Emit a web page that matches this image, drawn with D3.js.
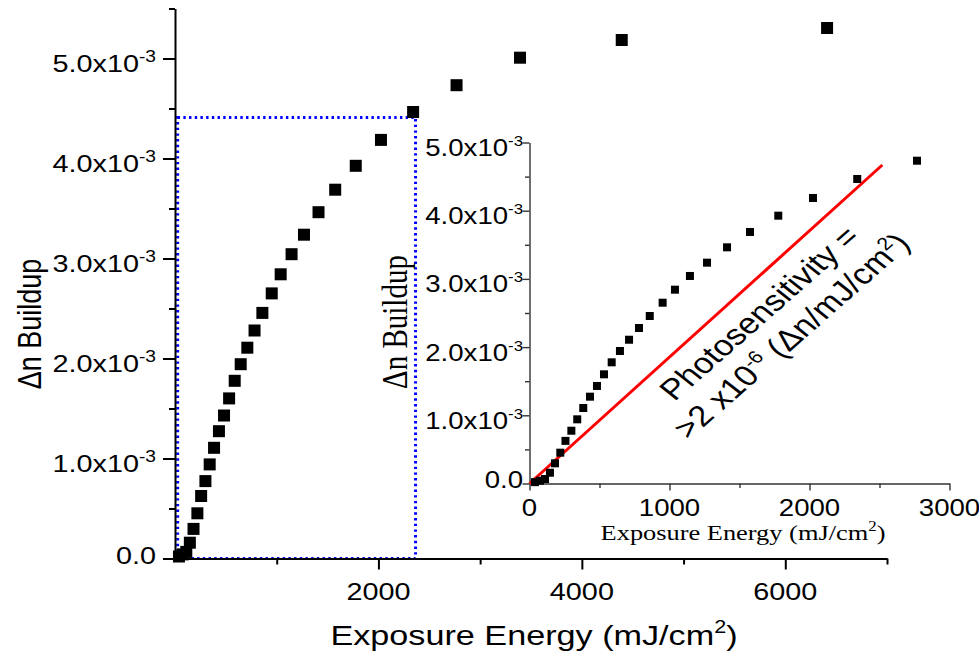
<!DOCTYPE html>
<html>
<head>
<meta charset="utf-8">
<script src="https://cdn.jsdelivr.net/npm/d3@7"></script>
<style>
  body { margin: 0; background: #fff; }
  svg { display: block; }
</style>
</head>
<body>
<svg id="chart" width="979" height="657"></svg>
<script>
// Exposure energy (mJ/cm2) and index change
const energy = [39, 75, 111, 146, 182, 220, 257, 299, 341, 384, 432, 482, 532, 587, 646, 711,
  782, 859, 951, 1039, 1146, 1268, 1411, 1575, 1777, 2025, 2341, 2768, 3392, 4392, 6411];
const deltaN = [0.02e-3, 0.041e-3, 0.066e-3, 0.158e-3, 0.296e-3, 0.452e-3, 0.625e-3, 0.774e-3,
  0.941e-3, 1.107e-3, 1.273e-3, 1.430e-3, 1.601e-3, 1.777e-3, 1.943e-3, 2.108e-3, 2.280e-3,
  2.456e-3, 2.651e-3, 2.842e-3, 3.043e-3, 3.238e-3, 3.463e-3, 3.688e-3, 3.927e-3, 4.186e-3,
  4.465e-3, 4.733e-3, 5.008e-3, 5.185e-3, 5.305e-3];

// tick values and labels
const mainYTicks = [0, 1e-3, 2e-3, 3e-3, 4e-3, 5e-3];
const mainYMinor = [0.5e-3, 1.5e-3, 2.5e-3, 3.5e-3, 4.5e-3, 5.5e-3];
const yTickBase = ["0.0", "1.0x10", "2.0x10", "3.0x10", "4.0x10", "5.0x10"];
const yTickSup = ["", "-3", "-3", "-3", "-3", "-3"];
const mainXTicks = [2000, 4000, 6000];
const mainXMinor = [1000, 3000, 5000, 7000];
const insetXTicks = [0, 1000, 2000, 3000];
const insetXMinor = [500, 1500, 2500];

// blue dotted zoom box [x0, x1, y0, y1] and the red photosensitivity line
const zoomBox = [26, 2365, 0, 4.41e-3];
const fitLine = [[0, 0], [2520, 4.67e-3]];

const data = energy.map((e, i) => ({ x: e, y: deltaN[i] }));

const SX = 1.2; // the picture is stretched a bit in x, so text is too
const svg = d3.select("#chart");

// small helper: text with an optional superscript, stretched like the picture
function label(g, x, y, parts, opts) {
  const t = g.append("text")
    .attr("transform", `translate(${x},${y}) scale(${SX},1)${opts.rotate ? ` rotate(${opts.rotate})` : ""}`)
    .attr("text-anchor", opts.anchor || "middle")
    .attr("font-family", opts.family || "'Liberation Sans', Arial, sans-serif")
    .attr("font-size", opts.size)
    .attr("fill", "#000");
  let raised = false;
  parts.forEach((p) => {
    const sup = typeof p === "object";
    const s = t.append("tspan").text(sup ? p.sup : p);
    if (sup) {
      s.attr("font-size", opts.supSize).attr("dy", -opts.rise);
      raised = true;
    } else if (raised) {
      s.attr("dy", opts.rise);
      raised = false;
    }
  });
  return t;
}

// ---------------- main chart ----------------
const xMain = d3.scaleLinear().domain([0, 7000]).range([175, 887]);
const yMain = d3.scaleLinear().domain([0, 5.5e-3]).range([558.5, 8.5]);

const main = svg.append("g");

// dotted box showing the inset range
main.append("rect")
  .attr("x", xMain(zoomBox[0]))
  .attr("y", yMain(zoomBox[3]))
  .attr("width", xMain(zoomBox[1]) - xMain(zoomBox[0]))
  .attr("height", yMain(zoomBox[2]) - yMain(zoomBox[3]))
  .attr("fill", "none")
  .attr("stroke", "#0000ff")
  .attr("stroke-width", 3)
  .attr("stroke-dasharray", "2.4,3.3");

const axisStyle = (g, w, col) => {
  g.selectAll("path,line").attr("stroke", col).attr("stroke-width", w);
};

main.append("g").attr("transform", "translate(0,558.5)")
  .call(d3.axisBottom(xMain).tickValues(mainXTicks).tickSize(11).tickSizeOuter(0).tickFormat(""))
  .call(axisStyle, 2, "#000");
main.append("g").attr("transform", "translate(0,558.5)")
  .call(d3.axisBottom(xMain).tickValues(mainXMinor).tickSize(6).tickSizeOuter(0).tickFormat(""))
  .call((g) => g.select(".domain").remove())
  .call(axisStyle, 2, "#000");
main.append("g").attr("transform", "translate(175,0)")
  .call(d3.axisLeft(yMain).tickValues(mainYTicks).tickSize(12).tickSizeOuter(0).tickFormat(""))
  .call(axisStyle, 2, "#000");
main.append("g").attr("transform", "translate(175,0)")
  .call(d3.axisLeft(yMain).tickValues(mainYMinor).tickSize(6).tickSizeOuter(0).tickFormat(""))
  .call((g) => g.select(".domain").remove())
  .call(axisStyle, 2, "#000");

mainYTicks.forEach((v, i) => {
  const parts = yTickSup[i] ? [yTickBase[i], { sup: yTickSup[i] }] : [yTickBase[i]];
  label(main, 156, yMain(v) + (v === 0 ? 5.5 : 13.5), parts,
    { anchor: "end", size: 24, supSize: 16, rise: 10 });
});
mainXTicks.forEach((v) => {
  label(main, xMain(v), 600, [String(v)], { size: 24 });
});

label(main, 534, 645, ["Exposure Energy (mJ/cm", { sup: "2" }, ")"],
  { size: 28.5, supSize: 18, rise: 12 });
label(main, 41, 324, ["\u0394n Buildup"], { size: 27, rotate: -90 });

main.append("g").selectAll("rect")
  .data(data)
  .join("rect")
  .attr("x", (d) => xMain(d.x) - 6)
  .attr("y", (d) => yMain(d.y) - 6)
  .attr("width", 12)
  .attr("height", 12)
  .attr("fill", "#000");

// ---------------- inset ----------------
const xIn = d3.scaleLinear().domain([0, 3000]).range([529.5, 949.5]);
const yIn = d3.scaleLinear().domain([0, 5e-3]).range([483.5, 142.5]);
const inset = svg.append("g");

inset.append("g").attr("transform", "translate(0,483.5)")
  .call(d3.axisBottom(xIn).tickValues(insetXTicks).tickSize(7).tickSizeOuter(0).tickFormat(""))
  .call(axisStyle, 1.4, "#333");
inset.append("g").attr("transform", "translate(0,483.5)")
  .call(d3.axisBottom(xIn).tickValues(insetXMinor).tickSize(4.5).tickSizeOuter(0).tickFormat(""))
  .call((g) => g.select(".domain").remove())
  .call(axisStyle, 1.4, "#333");
inset.append("g").attr("transform", "translate(529.5,0)")
  .call(d3.axisLeft(yIn).tickValues(mainYTicks).tickSize(7).tickSizeOuter(0).tickFormat(""))
  .call(axisStyle, 1.4, "#333");
inset.append("g").attr("transform", "translate(529.5,0)")
  .call(d3.axisLeft(yIn).tickValues(mainYMinor.filter((v) => v < 5e-3)).tickSize(4.5).tickSizeOuter(0).tickFormat(""))
  .call((g) => g.select(".domain").remove())
  .call(axisStyle, 1.4, "#333");

mainYTicks.forEach((v, i) => {
  const parts = yTickSup[i] ? [yTickBase[i], { sup: yTickSup[i] }] : [yTickBase[i]];
  label(inset, 523, yIn(v) + (v === 0 ? 4.5 : 13.5), parts,
    { anchor: "end", size: 23, supSize: 14, rise: 10 });
});
insetXTicks.forEach((v) => {
  label(inset, xIn(v), 515.5, [String(v)], { size: 23 });
});

const serif = "'Liberation Serif', 'Times New Roman', serif";
label(inset, 743, 540, ["Exposure Energy (mJ/cm", { sup: "2" }, ")"],
  { size: 22, supSize: 14, rise: 9, family: serif });
label(inset, 407, 322, ["\u0394n Buildup"], { size: 29, rotate: -90, family: serif });

// red photosensitivity line
inset.append("path")
  .datum(fitLine)
  .attr("d", d3.line().x((d) => xIn(d[0])).y((d) => yIn(d[1])))
  .attr("fill", "none")
  .attr("stroke", "#ff0000")
  .attr("stroke-width", 3);

inset.append("g").selectAll("rect")
  .data(data.filter((d) => d.x <= 3000))
  .join("rect")
  .attr("x", (d) => xIn(d.x) - 4)
  .attr("y", (d) => yIn(d.y) - 4)
  .attr("width", 8)
  .attr("height", 8)
  .attr("fill", "#000");

// rotated annotation
const note = inset.append("g")
  .attr("transform", `translate(768,320) scale(${SX},1) rotate(-46.5)`)
  .attr("font-family", "'Liberation Sans', Arial, sans-serif")
  .attr("font-size", 29)
  .attr("text-anchor", "middle");
note.append("text").attr("x", 0).attr("y", 0).text("Photosensitivity =");
const l2 = note.append("text").attr("x", 2).attr("y", 35);
l2.append("tspan").text(">2 x10");
l2.append("tspan").attr("font-size", 18).attr("dy", -11).text("-6");
l2.append("tspan").attr("dy", 11).text(" (\u0394n/mJ/cm");
l2.append("tspan").attr("font-size", 18).attr("dy", -11).text("2");
l2.append("tspan").attr("dy", 11).text(")");
</script>
</body>
</html>
